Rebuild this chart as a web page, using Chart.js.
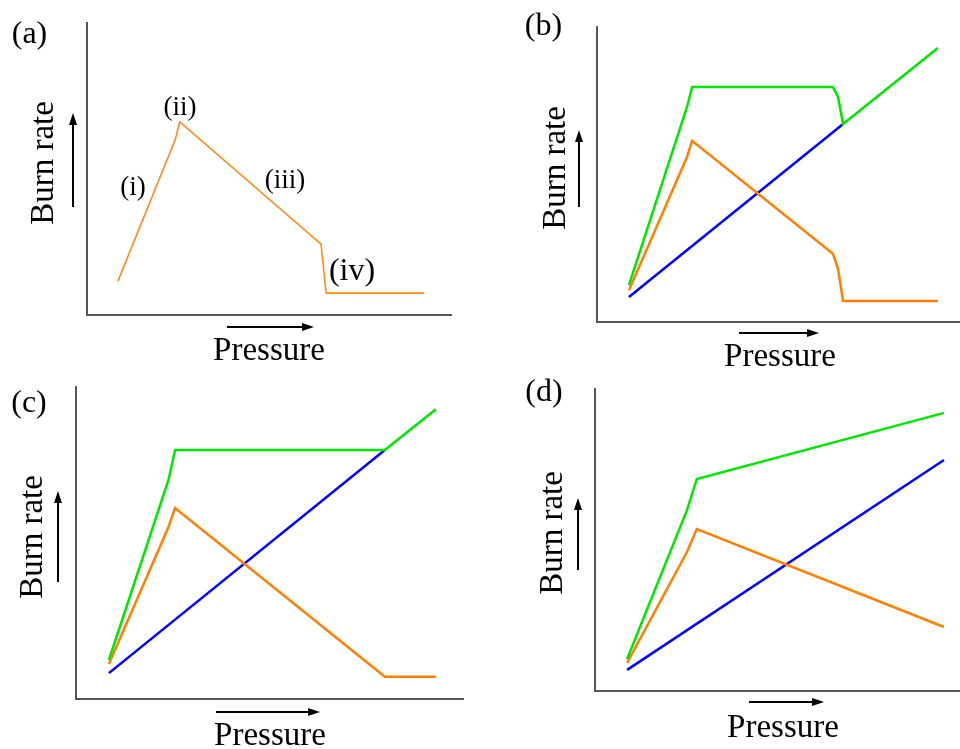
<!DOCTYPE html>
<html>
<head>
<meta charset="utf-8">
<script src="https://cdn.jsdelivr.net/npm/chart.js@4.4.1/dist/chart.umd.min.js"></script>
<style>
html, body { margin: 0; padding: 0; background: #ffffff; width: 960px; height: 749px; overflow: hidden; }
canvas { position: absolute; }
</style>
</head>
<body>
<canvas id="chartA"></canvas>
<canvas id="chartB"></canvas>
<canvas id="chartC"></canvas>
<canvas id="chartD"></canvas>
<script>
// ---------- DATA (arbitrary units, 0-100 on both axes) ----------
// Panel (a): single burn-rate curve
const aPressure = [8.5, 24.2, 25.5, 64.3, 65.7, 92.6];
const aBurnRate = [11.6, 59.9, 66.1, 24.3, 7.5, 7.5];

// Panel (b)
const bPressure = [8.8, 24.8, 26.2, 65.0, 66.4, 67.8, 93.9];
const bGreen    = [12.5, 72.9, 79.7, 79.7, 76.3, 67.1, 92.9];
const bOrange   = [10.8, 55.9, 61.4, 23.1, 18.0, 7.1, 7.1];
const bBluePressure = [8.8, 67.8];
const bBlue         = [8.5, 67.1];

// Panel (c)
const cPressure = [8.5, 23.9, 25.6, 79.8, 93.0];
const cGreen    = [12.5, 70.2, 79.8, 79.8, 92.9];
const cOrange   = [11.2, 55.1, 61.2, 7.1, 7.1];
const cBluePressure = [8.5, 79.8];
const cBlue         = [8.3, 79.8];

// Panel (d)
const dPressure = [8.8, 25.2, 27.9, 95.6];
const dGreen    = [10.6, 59.9, 70.2, 92.1];
const dOrange   = [9.3, 46.0, 53.6, 21.2];
const dBluePressure = [8.8, 95.6];
const dBlue         = [7.0, 76.5];

// Text
const xLabel = 'Pressure';
const yLabel = 'Burn rate';
const panelLabels = ['(a)', '(b)', '(c)', '(d)'];
const stageLabels = ['(i)', '(ii)', '(iii)', '(iv)'];

// ---------- STYLE / LAYOUT ----------
const GREEN = '#00e600', ORANGE = '#ff8000', BLUE = '#0000ff';
const FONT = '"Liberation Serif", "Times New Roman", serif';

function pts(xs, ys) { return xs.map((x, i) => ({ x: x, y: ys[i] })); }
function ds(xs, ys, color, w) {
  return { data: pts(xs, ys), borderColor: color, borderWidth: w, pointRadius: 0,
           tension: 0, fill: false, borderJoinStyle: 'miter' };
}

const panels = [
  { id: 'chartA', left: 0, top: 0, w: 480, h: 370,
    pad: { left: 87, top: 23, right: 29, bottom: 55 },
    datasets: [ds(aPressure, aBurnRate, '#ff8a1c', 1.6)],
    texts: [
      { text: panelLabels[0], x: 29.5, y: 43, size: 32 },
      { text: yLabel, x: 53, y: 163, size: 33, rot: true },
      { text: xLabel, x: 269, y: 360, size: 33 },
      { text: stageLabels[0], x: 133, y: 195, size: 27 },
      { text: stageLabels[1], x: 180, y: 115, size: 27 },
      { text: stageLabels[2], x: 285, y: 188, size: 27 },
      { text: stageLabels[3], x: 352, y: 280, size: 32 }
    ],
    arrows: [ { x1: 73, y1: 207, x2: 73, y2: 113 }, { x1: 227, y1: 327, x2: 314, y2: 327 } ]
  },
  { id: 'chartB', left: 480, top: 0, w: 480, h: 370,
    pad: { left: 117, top: 27, right: 0, bottom: 48 },
    datasets: [ds(bPressure, bGreen, GREEN, 2.5), ds(bPressure, bOrange, ORANGE, 2.5), ds(bBluePressure, bBlue, BLUE, 2.5)],
    texts: [
      { text: panelLabels[1], x: 543.5, y: 35, size: 32 },
      { text: yLabel, x: 565, y: 168, size: 33, rot: true },
      { text: xLabel, x: 780, y: 366, size: 33 }
    ],
    arrows: [ { x1: 579, y1: 207, x2: 579, y2: 130 }, { x1: 739, y1: 333, x2: 819, y2: 333 } ]
  },
  { id: 'chartC', left: 0, top: 370, w: 480, h: 379,
    pad: { left: 76, top: 17, right: 17, bottom: 50 },
    datasets: [ds(cPressure, cGreen, GREEN, 2.5), ds(cPressure, cOrange, ORANGE, 2.5), ds(cBluePressure, cBlue, BLUE, 2.5)],
    texts: [
      { text: panelLabels[2], x: 29, y: 412, size: 32 },
      { text: yLabel, x: 42, y: 537, size: 33, rot: true },
      { text: xLabel, x: 270, y: 745, size: 33 }
    ],
    arrows: [ { x1: 58, y1: 582, x2: 58, y2: 491 }, { x1: 216, y1: 712, x2: 320, y2: 712 } ]
  },
  { id: 'chartD', left: 480, top: 370, w: 480, h: 379,
    pad: { left: 115, top: 19, right: 0, bottom: 58 },
    datasets: [ds(dPressure, dGreen, GREEN, 2.5), ds(dPressure, dOrange, ORANGE, 2.5), ds(dBluePressure, dBlue, BLUE, 2.5)],
    texts: [
      { text: panelLabels[3], x: 544, y: 401, size: 32 },
      { text: yLabel, x: 562, y: 533, size: 33, rot: true },
      { text: xLabel, x: 783, y: 737, size: 33 }
    ],
    arrows: [ { x1: 578, y1: 570, x2: 578, y2: 498 }, { x1: 749, y1: 702, x2: 824, y2: 702 } ]
  }
];

const decor = {
  id: 'decor',
  afterDraw(chart, args, opts) {
    const p = opts.panel;
    const ctx = chart.ctx;
    ctx.save();
    ctx.fillStyle = '#000';
    ctx.strokeStyle = '#000';
    for (const t of p.texts) {
      ctx.save();
      ctx.font = t.size + 'px ' + FONT;
      ctx.textAlign = 'center';
      ctx.textBaseline = 'alphabetic';
      ctx.translate(t.x - p.left, t.y - p.top);
      if (t.rot) ctx.rotate(-Math.PI / 2);
      ctx.fillText(t.text, 0, 0);
      ctx.restore();
    }
    for (const a of p.arrows) {
      const x1 = a.x1 - p.left, y1 = a.y1 - p.top, x2 = a.x2 - p.left, y2 = a.y2 - p.top;
      const ang = Math.atan2(y2 - y1, x2 - x1);
      const L = 12, HW = 4;
      const bx = x2 - L * Math.cos(ang), by = y2 - L * Math.sin(ang);
      ctx.lineWidth = 2;
      ctx.beginPath(); ctx.moveTo(x1, y1); ctx.lineTo(bx, by); ctx.stroke();
      ctx.beginPath();
      ctx.moveTo(x2, y2);
      ctx.lineTo(bx - HW * Math.sin(ang), by + HW * Math.cos(ang));
      ctx.lineTo(bx + HW * Math.sin(ang), by - HW * Math.cos(ang));
      ctx.closePath(); ctx.fill();
    }
    ctx.restore();
  }
};

const axisOpts = () => ({
  type: 'linear', min: 0, max: 100, display: true,
  grid: { display: false, drawTicks: false },
  ticks: { display: false },
  border: { display: true, color: '#555555', width: 2 }
});

for (const p of panels) {
  const cv = document.getElementById(p.id);
  cv.width = p.w; cv.height = p.h;
  cv.style.left = p.left + 'px'; cv.style.top = p.top + 'px';
  cv.style.width = p.w + 'px'; cv.style.height = p.h + 'px';
  new Chart(cv, {
    type: 'line',
    data: { datasets: p.datasets },
    options: {
      responsive: false, animation: false, devicePixelRatio: 1,
      layout: { padding: p.pad },
      scales: { x: axisOpts(), y: axisOpts() },
      plugins: { legend: { display: false }, tooltip: { enabled: false }, decor: { panel: p } },
      events: []
    },
    plugins: [decor]
  });
}
</script>
</body>
</html>
